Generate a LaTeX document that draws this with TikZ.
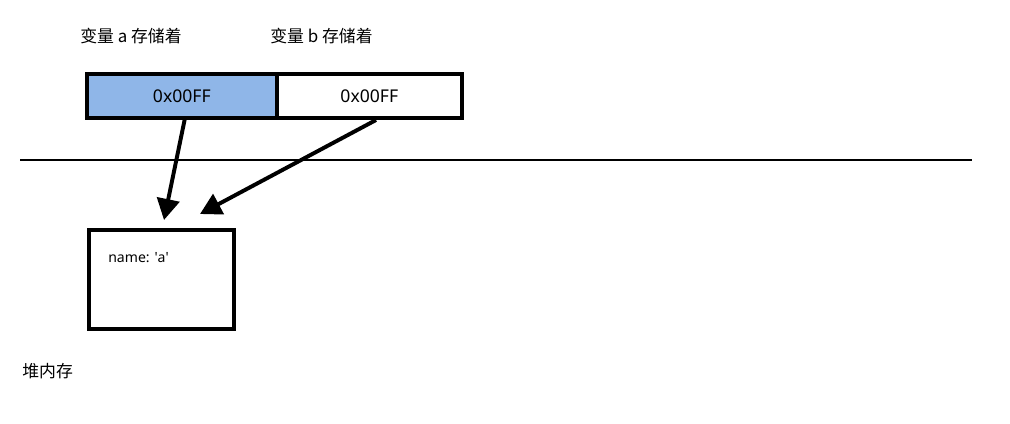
\documentclass[tikz,border=0pt]{standalone}
\usepackage{fontspec}
\setmainfont{Noto Sans}
\newfontfamily\cjk{Noto Sans CJK SC}
\usetikzlibrary{arrows.meta}
\definecolor{cellblue}{HTML}{8FB6E8}
\tikzset{
  lbl/.style={font=\cjk\fontsize{12}{14}\selectfont, inner sep=0pt},
  cell/.style={draw=black, line width=2.6pt, minimum height=44*0.025cm, inner sep=0pt, font=\fontsize{12.5}{15}\selectfont},
  ptr/.style={draw=black, line width=2.8pt, -{Triangle[length=15pt,width=16pt]}},
  heap/.style={draw=black, line width=2.6pt, minimum width=145*0.025cm, minimum height=99*0.025cm, inner sep=0pt}
}
\begin{document}
\begin{tikzpicture}[x=0.025cm,y=-0.025cm]
\useasboundingbox (0,0) rectangle (1010,423);
\node[lbl, anchor=west] (la) at (80,36) {变量 a 存储着};
\node[lbl, anchor=west] (lb) at (270,36) {变量 b 存储着};
\node[cell, fill=cellblue, minimum width=190*0.025cm, anchor=north west] (ca) at (85,72) {0x00FF};
\node[cell, fill=white, minimum width=185*0.025cm, anchor=north west] (cb) at (275,72) {0x00FF};
\coordinate (lineL) at (20,160);
\coordinate (lineR) at (972,160);
\draw[line width=1.6pt] (lineL) -- (lineR);
\node[heap, anchor=north west] (hb) at (87,228) {};
\node[font=\fontsize{10}{12}\selectfont, anchor=west, inner sep=0pt] (nm) at (108,258) {name: \textquotesingle a\textquotesingle};
\node[lbl, anchor=west] (hp) at (22,371) {堆内存};
\coordinate (sa) at (185,118);
\coordinate (ea) at (164,220);
\coordinate (sb) at (376,120);
\coordinate (eb) at (200,214);
\draw[ptr] (sa) -- (ea);
\draw[ptr] (sb) -- (eb);
\end{tikzpicture}
\end{document}
